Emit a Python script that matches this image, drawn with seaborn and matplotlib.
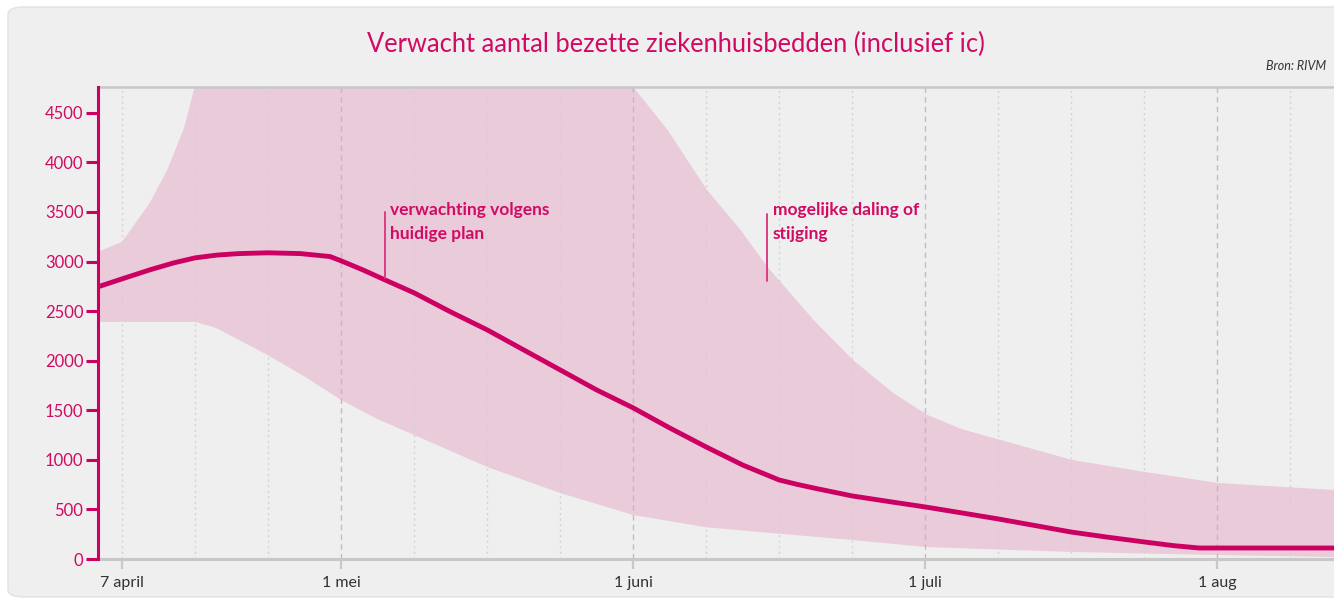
import matplotlib
matplotlib.use("Agg")
import matplotlib.pyplot as plt
from matplotlib.patches import FancyBboxPatch
import numpy as np
import pandas as pd
import seaborn as sns

# x axis in weeks after 7 april (the chart uses a weekly grid)
line_week = [-0.33, 0, 0.38, 0.7, 1, 1.3, 1.6, 2, 2.44, 2.85, 3, 3.3, 3.6, 4, 4.5, 5, 5.5, 6,
             6.5, 7, 7.5, 8, 8.5, 9, 9.25, 9.5, 10, 10.5, 11, 11.5, 12, 12.5, 13, 13.5, 14,
             14.4, 14.75, 16.6]
line_value = [2745, 2825, 2916, 2985, 3037, 3065, 3080, 3088, 3080, 3050, 3007, 2915, 2815, 2684,
              2492, 2311, 2109, 1907, 1705, 1524, 1322, 1130, 948, 797, 752, 712, 636, 580, 525,
              465, 404, 338, 272, 220, 172, 135, 111, 111]

upper_week = [-0.33, 0, 0.38, 0.62, 0.85, 1.0, 1.4, 6.9, 7.0, 7.23, 7.47, 8.01, 8.47, 8.84,
              9.47, 10.01, 10.56, 11.03, 11.5, 12.03, 13.01, 14.01, 15.01, 16.6]
upper_value = [3098, 3199, 3592, 3925, 4350, 4780, 5600, 5600, 4760, 4550, 4329, 3723, 3320,
               2946, 2412, 2008, 1675, 1453, 1310, 1201, 999, 878, 767, 696]

lower_week = [-0.33, 0, 1.0, 1.25, 1.34, 1.99, 2.5, 3, 3.5, 4, 5, 6, 7, 8, 9, 10, 11, 13, 15, 16.6]
lower_value = [2391, 2391, 2391, 2340, 2310, 2058, 1840, 1604, 1410, 1251, 928, 666, 444, 320,
               255, 192, 121, 71, 40, 20]

month_weeks = [0, 3, 7, 11, 15]
month_labels = ["7 april", "1 mei", "1 juni", "1 juli", "1 aug"]
y_ticks = list(range(0, 5000, 500))

MAGENTA = "#cc0062"
TEXT_MAGENTA = "#d10a64"
BAND = "#eacbda"
PANEL = "#efefef"

sns.set_theme(style="white")
plt.rcParams["font.family"] = ["Lato", "DejaVu Sans"]

fig = plt.figure(figsize=(13.34, 6.01), dpi=100)
fig.patch.set_facecolor("white")
panel = FancyBboxPatch((8 / 1334, 4 / 601), 1.2, 590 / 601, boxstyle="round,pad=0,rounding_size=0.012",
                       transform=fig.transFigure, facecolor=PANEL, edgecolor="#e2e2e2",
                       linewidth=1, zorder=-10)
fig.patches.append(panel)

ax = fig.add_axes([98 / 1334, 42 / 601, 1 - 98 / 1334, 472 / 601])
ax.set_facecolor(PANEL)

band_x = np.concatenate([upper_week, lower_week[::-1]])
band_y = np.concatenate([upper_value, lower_value[::-1]])
ax.fill(band_x, band_y, color=BAND, lw=0, zorder=1)

# weekly grid: dashed at month starts, dotted elsewhere
for w in range(0, 17):
    if w in month_weeks[1:]:
        ax.axvline(w, color="#c4b4bc", lw=1, ls=(0, (4, 3)), alpha=0.9, zorder=1.5)
    else:
        ax.axvline(w, color="#d6cdd2", lw=1, ls=(0, (1.5, 2.5)), alpha=0.9, zorder=1.5)

df = pd.DataFrame({"week": line_week, "bedden": line_value})
sns.lineplot(data=df, x="week", y="bedden", color=MAGENTA, lw=3.5, ax=ax, zorder=3,
             solid_capstyle="butt", solid_joinstyle="round")

ax.set_xlim(-0.33, 16.6)
ax.set_ylim(0, 4760)
ax.set_xlabel("")
ax.set_ylabel("")

ax.set_yticks(y_ticks)
ax.set_yticklabels([str(v) for v in y_ticks])
ax.set_xticks(month_weeks)
ax.set_xticklabels(month_labels)
ax.tick_params(axis="y", direction="out", length=8.5, width=2.2, color=MAGENTA,
               labelcolor=TEXT_MAGENTA, labelsize=12, pad=2, left=True)
ax.tick_params(axis="x", direction="out", length=7, width=1.6, color="#c8c8c8",
               labelcolor="#333333", labelsize=11.5, pad=5, bottom=True)

for side in ["top", "bottom", "left"]:
    ax.spines[side].set_visible(True)
ax.spines["right"].set_visible(False)
ax.spines["left"].set_color(MAGENTA)
ax.spines["left"].set_linewidth(2.2)
ax.spines["bottom"].set_color("#c8c8c8")
ax.spines["bottom"].set_linewidth(2.2)
ax.spines["top"].set_color("#c8c8c8")
ax.spines["top"].set_linewidth(1.8)
ax.spines["left"].set_zorder(5)

# annotations
ax.plot([3.6, 3.6], [2830, 3500], color="#dc3d84", lw=1.4, zorder=4)
ax.text(3.67, 3600, "verwachting volgens\nhuidige plan", color=TEXT_MAGENTA, fontsize=12.5,
        fontweight="bold", va="top", ha="left", linespacing=1.6, zorder=4)
ax.plot([8.84, 8.84], [2800, 3480], color="#dc3d84", lw=1.4, zorder=4)
ax.text(8.91, 3600, "mogelijke daling of\nstijging", color=TEXT_MAGENTA, fontsize=12.5,
        fontweight="bold", va="top", ha="left", linespacing=1.6, zorder=4)

fig.text(676 / 1334, 1 - 44 / 601, "Verwacht aantal bezette ziekenhuisbedden (inclusief ic)",
         color=TEXT_MAGENTA, fontsize=18.4, fontweight="normal", ha="center", va="center")
fig.text(1326 / 1334, 1 - 66 / 601, "Bron: RIVM", color="#333333", fontsize=9, style="italic",
         ha="right", va="center")

fig.savefig("out.png", dpi=100, facecolor="white")
